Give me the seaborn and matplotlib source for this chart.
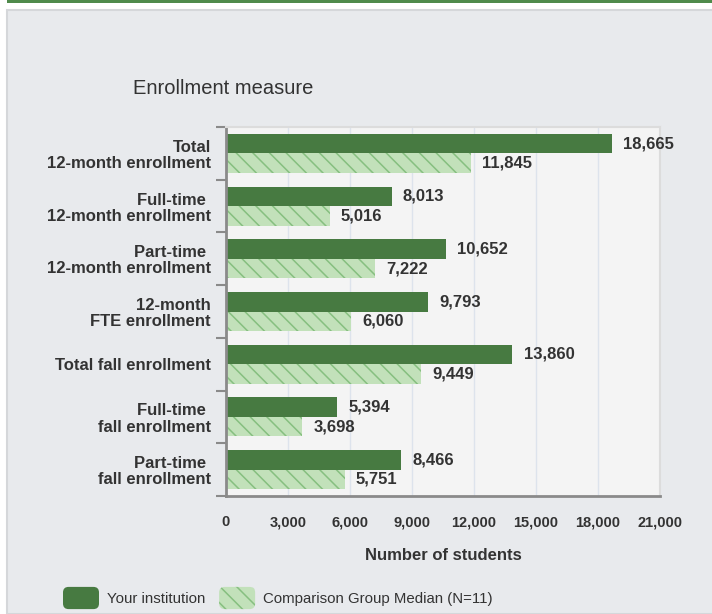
import matplotlib
matplotlib.use("Agg")
import numpy as np
import pandas as pd
import matplotlib.pyplot as plt
import seaborn as sns
from matplotlib.patches import Rectangle, Patch, FancyBboxPatch
from matplotlib.legend_handler import HandlerPatch
from matplotlib.ticker import FixedLocator, FuncFormatter

# data
measures = [
    "Total\n12-month enrollment",
    "Full-time \n12-month enrollment",
    "Part-time \n12-month enrollment",
    "12-month\nFTE enrollment",
    "Total fall enrollment",
    "Full-time \nfall enrollment",
    "Part-time \nfall enrollment",
]
your_institution = [18665, 8013, 10652, 9793, 13860, 5394, 8466]
comparison_median = [11845, 5016, 7222, 6060, 9449, 3698, 5751]
series_names = ["Your institution", "Comparison Group Median (N=11)"]
x_ticks = [0, 3000, 6000, 9000, 12000, 15000, 18000, 21000]

DARK = "#477a41"
LIGHT = "#c2e1ba"
HATCH = "#86bf80"
TEXT = "#333333"

sns.set_theme(style="white")
plt.rcParams["font.family"] = ["Liberation Sans", "DejaVu Sans"]
plt.rcParams["hatch.linewidth"] = 1.1

df = pd.DataFrame({
    "measure": measures * 2,
    "value": your_institution + comparison_median,
    "series": [series_names[0]] * len(measures) + [series_names[1]] * len(measures),
})

fig = plt.figure(figsize=(7.12, 6.14), dpi=100)
fig.patch.set_facecolor("white")

# panel background and green top rule
fig.patches.append(Rectangle((7 / 712, 0), 1, (614 - 10) / 614, transform=fig.transFigure,
                             facecolor="#e8eaed", edgecolor="#d5d7da", linewidth=1.5, zorder=-2))
fig.patches.append(Rectangle((7 / 712, 1 - 3 / 614), 1, 3 / 614, transform=fig.transFigure,
                             facecolor="#4f8a4b", edgecolor="none", zorder=-2))

ax = fig.add_axes([226 / 712, 1 - 496 / 614, 434 / 712, (496 - 127) / 614])
ax.set_facecolor("#f4f4f4")

sns.barplot(data=df, y="measure", x="value", hue="series", orient="h",
            palette=[DARK, LIGHT], width=0.74, saturation=1, legend=False, ax=ax)

for p in ax.containers[0]:
    p.set_edgecolor(DARK)
    p.set_linewidth(0)
for p in ax.containers[1]:
    p.set_hatch("\\\\")
    p.set_edgecolor(HATCH)
    p.set_linewidth(0)

for cont in ax.containers:
    ax.bar_label(cont, labels=[f"{int(b.get_width()):,}" for b in cont], padding=8,
                 fontsize=12, fontweight="bold", color=TEXT)

ax.set_xlim(0, 21000)
ax.set_ylim(len(measures) - 0.5, -0.5)
ax.set_xticks(x_ticks)
ax.xaxis.set_major_formatter(FuncFormatter(lambda v, _: f"{int(v):,}"))
ax.grid(axis="x", color="#dde3ec", linewidth=1)
ax.set_axisbelow(True)

ax.tick_params(axis="x", length=0, pad=14, labelsize=10.5, labelcolor=TEXT)
for lbl in ax.get_xticklabels():
    lbl.set_fontweight("bold")
ax.tick_params(axis="y", which="major", length=0, pad=11, labelsize=12, labelcolor=TEXT)
for lbl in ax.get_yticklabels():
    lbl.set_fontweight("bold")
    lbl.set_linespacing(1.1)
ax.yaxis.set_minor_locator(FixedLocator(np.arange(-0.5, len(measures), 1.0)))
ax.tick_params(axis="y", which="minor", length=7, width=1.5, color="#8a8a8a", left=True)

for side in ["top", "right"]:
    ax.spines[side].set_color("#dcdcdc")
    ax.spines[side].set_linewidth(1.5)
for side in ["left", "bottom"]:
    ax.spines[side].set_color("#8a8a8a")
    ax.spines[side].set_linewidth(2)

ax.set_ylabel("")
ax.set_xlabel("Number of students", fontsize=12, fontweight="bold", color=TEXT, labelpad=13)

fig.text(133 / 712, 1 - 88 / 614, "Enrollment measure", fontsize=14.5, color=TEXT,
         ha="left", va="center")


def rounded_patch(legend, orig_handle, xdescent, ydescent, width, height, fontsize):
    return FancyBboxPatch((-xdescent, -ydescent), width, height,
                          boxstyle="round,pad=0,rounding_size=4")


handles = [
    Patch(facecolor=DARK, edgecolor=DARK, linewidth=0),
    Patch(facecolor=LIGHT, edgecolor=HATCH, hatch="\\\\", linewidth=0),
]
fig.legend(handles, series_names, loc="center left", bbox_to_anchor=(63 / 712, 1 - 598 / 614),
           ncol=2, frameon=False, borderpad=0, borderaxespad=0,
           handlelength=2.4, handleheight=1.9, handletextpad=0.55, columnspacing=0.9,
           prop={"size": 10.8},
           labelcolor=TEXT,
           handler_map={Patch: HandlerPatch(patch_func=rounded_patch)})

fig.savefig("out.png", dpi=100, facecolor=fig.get_facecolor())
